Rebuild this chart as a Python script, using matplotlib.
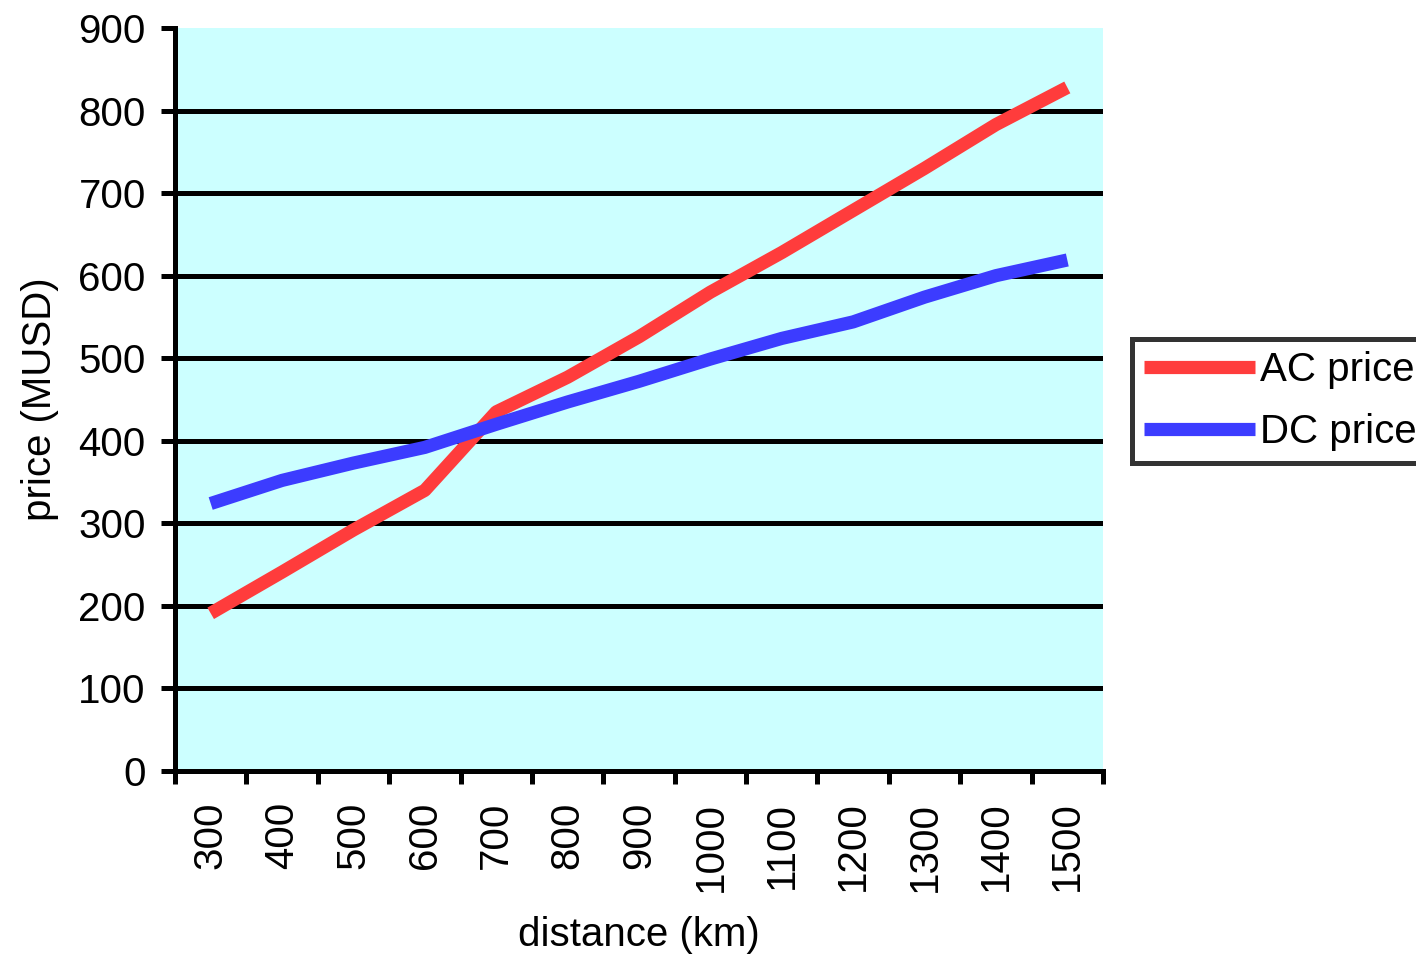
import matplotlib.pyplot as plt
import numpy as np

plt.rcParams['font.family'] = ['Liberation Sans', 'DejaVu Sans']

# distancia (km) e precos (MUSD)
distances = ['300', '400', '500', '600', '700', '800', '900',
             '1000', '1100', '1200', '1300', '1400', '1500']
ac_price = [191, 241, 292, 340, 435, 477, 526, 580, 628, 679, 730, 783, 828]
dc_price = [324, 352, 373, 392, 420, 447, 472, 499, 524, 544, 574, 600, 619]
y_ticks = [0, 100, 200, 300, 400, 500, 600, 700, 800, 900]

fig = plt.figure(figsize=(14.16, 9.57), dpi=100)
ax = fig.add_axes([175/1416, 1 - 771/957, 928/1416, 743/957])
ax.set_facecolor('#ccffff')

x = np.arange(len(distances))

# linhas de grade horizontais (sem a de 0 e a de 900)
for v in y_ticks[1:-1]:
    ax.axhline(v, color='black', lw=3.6, zorder=1)

ax.plot(x, ac_price, color='#ff3c3c', lw=9.5, label='AC price', zorder=3,
        solid_capstyle='butt')
ax.plot(x, dc_price, color='#3c3cff', lw=9.5, label='DC price', zorder=3,
        solid_capstyle='butt')

ax.set_xlim(-0.5, len(distances) - 0.5)
ax.set_ylim(0, 900)

ax.spines['top'].set_visible(False)
ax.spines['right'].set_visible(False)
ax.spines['left'].set_linewidth(3.6)
ax.spines['bottom'].set_linewidth(3.6)

ax.set_yticks(y_ticks)
ax.set_yticklabels([str(v) for v in y_ticks])
ax.tick_params(axis='y', length=10, width=3.6, pad=11, labelsize=29)

# marcas entre categorias, rotulos no centro
ax.set_xticks(np.arange(-0.5, len(distances), 1.0))
ax.set_xticklabels([])
ax.tick_params(axis='x', which='major', length=9, width=3.6)
ax.set_xticks(x, minor=True)
ax.set_xticklabels(distances, minor=True, rotation=90, fontsize=29)
ax.tick_params(axis='x', which='minor', length=0, pad=22)

ax.set_xlabel('distance (km)', fontsize=29)
ax.xaxis.label.set_va('center')
ax.xaxis.set_label_coords(0.5, -(935 - 771) / 743)
ax.set_ylabel('price (MUSD)', fontsize=29)
ax.yaxis.label.set_va('center')
ax.yaxis.set_label_coords((40 - 175) / 928, 0.5)

leg = fig.legend(loc='center left', bbox_to_anchor=(1132/1416, 1 - 401/957),
                 fontsize=29, frameon=True, fancybox=False, edgecolor='black',
                 handlelength=2.75, handletextpad=0.12, labelspacing=0.6,
                 borderpad=0.3, borderaxespad=0)
leg.get_frame().set_linewidth(3.6)

fig.savefig('out.png', dpi=100)
